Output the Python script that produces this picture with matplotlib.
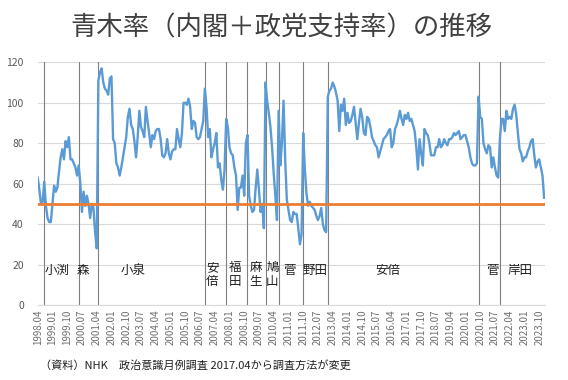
import matplotlib
matplotlib.use("Agg")
import matplotlib.pyplot as plt
import numpy as np

plt.rcParams['font.family'] = ['Noto Sans CJK JP', 'DejaVu Sans']

# ---- data (monthly, from 1998.04) ----
hashimoto = [63, 57, 50, 51]
obuchi = [61, 49, 43, 41, 41, 50, 59, 56, 58, 66, 73, 77, 72, 81, 78, 83, 72, 72, 70, 68, 64]
mori = [69, 60, 46, 56, 49, 54, 50, 43, 50, 48, 36, 28]
koizumi = [111, 115, 117, 110, 107, 106, 104, 112, 113, 82, 80, 70, 68, 64, 68, 73, 78, 83, 93, 97,
           89, 87, 81, 73, 83, 96, 88, 86, 83, 98, 91, 85, 78, 84, 82, 86, 87, 87, 82, 74,
           73, 75, 82, 75, 72, 76, 77, 77, 87, 82, 78, 85, 100, 100, 99, 102, 98, 87, 91, 90,
           83, 82, 83, 87, 91]
abe1 = [107, 98, 83, 87, 73, 77, 80, 85, 68, 70, 62, 57, 67]
fukuda = [92, 88, 78, 75, 74, 68, 64, 47, 58, 58, 64, 54, 80]
aso = [84, 54, 49, 46, 47, 58, 67, 57, 46, 50, 38]
hatoyama = [110, 101, 95, 88, 78, 65, 54, 42]
kan = [96, 69, 80, 101, 72, 52, 47, 42, 41, 46, 45, 45, 38, 30, 35]
noda = [85, 67, 55, 49, 51, 49, 48, 47, 44, 42, 44, 48, 40, 37, 36]
abe2 = [103, 106, 107, 110, 108, 105, 101, 86, 99, 96, 102, 89, 95, 90, 91, 94, 98, 90, 82, 90,
        97, 93, 85, 84, 93, 92, 88, 83, 81, 79, 78, 73, 76, 79, 82, 83, 84, 86, 87, 78,
        80, 87, 89, 92, 96, 92, 89, 94, 92, 95, 91, 92, 89, 86, 78, 67, 82, 75, 69, 87,
        85, 84, 80, 74, 74, 74, 78, 78, 82, 78, 79, 82, 80, 79, 82, 82, 83, 85, 84, 85,
        86, 82, 83, 84, 84, 81, 78, 73, 70, 69, 69, 70]
suga = [103, 93, 92, 80, 77, 75, 79, 78, 68, 73, 68, 64, 63]
kishida = [82, 92, 92, 86, 96, 92, 93, 92, 97, 99, 94, 85, 77, 75, 71, 73, 73, 76, 78, 81,
           82, 74, 68, 71, 72, 68, 64, 53]

eras = [hashimoto, obuchi, mori, koizumi, abe1, fukuda, aso, hatoyama, kan, noda, abe2, suga, kishida]
pm_names = ["小渕", "森", "小泉", "安\n倍", "福\n田", "麻\n生", "鳩\n山", "菅", "野田", "安倍", "菅", "岸田"]
name_x = [12, 27.8, 58, 106.4, 120.4, 133, 143.2, 153.8, 169.4, 213.7, 277.3, 294.5]

tick_labels = ["1998.04", "1999.01", "1999.10", "2000.07", "2001.04", "2002.01", "2002.10",
               "2003.07", "2004.04", "2005.01", "2005.10", "2006.07", "2007.04", "2008.01",
               "2008.10", "2009.07", "2010.04", "2011.01", "2011.10", "2012.07", "2013.04",
               "2014.01", "2014.10", "2015.07", "2016.04", "2017.01", "2017.10", "2018.07",
               "2019.04", "2020.01", "2020.10", "2021.07", "2022.04", "2023.01", "2023.10"]

values = np.concatenate([np.array(e, dtype=float) for e in eras])
x = np.arange(len(values))
starts = np.cumsum([len(e) for e in eras])[:-1]

# ---- figure ----
fig = plt.figure(figsize=(5.68, 3.8), dpi=100)
ax = fig.add_axes([0.0664, 0.1974, 0.893, 0.6387])

ax.set_ylim(0, 120)
ax.set_xlim(0, len(values) - 0.5)
ax.set_yticks(range(0, 121, 20))
ax.yaxis.grid(True, color='#D9D9D9', lw=0.8)
ax.set_axisbelow(True)
for s in ['top', 'right', 'left']:
    ax.spines[s].set_visible(False)
ax.spines['bottom'].set_color('#D9D9D9')
ax.tick_params(axis='y', length=0, pad=10, labelsize=7.5, labelcolor='#595959')

tick_pos = [tick_labels.index(t) * 9 for t in tick_labels]
ax.set_xticks(tick_pos)
ax.set_xticklabels(tick_labels, rotation=90, fontsize=7, color='#6E6E6E')
ax.tick_params(axis='x', length=0, pad=3)

for s in starts:
    ax.axvline(s, color='#808080', lw=0.8, zorder=2)

ax.plot(x, values, color='#5B9BD5', lw=1.7, zorder=3)
ax.axhline(50, color='#ED7D31', lw=2, zorder=4)

for name, nx in zip(pm_names, name_x):
    if "\n" in name:
        ax.text(nx, 15, name, ha='center', va='center', fontsize=9, color='#202020',
                linespacing=1.15, zorder=5)
    else:
        ax.text(nx, 17, name, ha='center', va='center', fontsize=9, color='#202020', zorder=5)

fig.text(0.495, 0.926, "青木率（内閣＋政党支持率）の推移", ha='center', va='center',
         fontsize=19, color='#404040')
fig.text(0.07, 0.04, "（資料）NHK　政治意識月例調査 2017.04から調査方法が変更", ha='left', va='center',
         fontsize=8, color='#202020')

fig.savefig("out.png", dpi=100)
